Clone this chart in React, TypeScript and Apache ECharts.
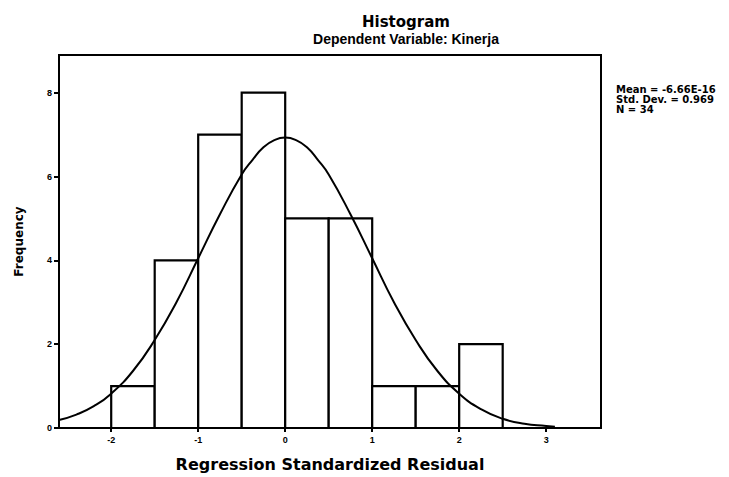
import React, { useEffect, useRef } from "react";
import * as echarts from "echarts";

// Histogram bins (lower edge, upper edge) and frequencies
const binStarts = [-2.0, -1.5, -1.0, -0.5, 0.0, 0.5, 1.0, 1.5, 2.0];
const binEnds = [-1.5, -1.0, -0.5, 0.0, 0.5, 1.0, 1.5, 2.0, 2.5];
const frequencies = [1, 4, 7, 8, 5, 5, 1, 1, 2];

// Normal curve
const curveX = [-2.6, -2.4, -2.2, -2.0, -1.75, -1.5, -1.25, -1.0, -0.75, -0.5, -0.375, -0.25, -0.125, 0, 0.125, 0.25, 0.375, 0.5, 0.75, 1.0, 1.25, 1.5, 1.75, 2.0, 2.25, 2.5, 2.75, 3.0, 3.1];
const curveY = [0.19, 0.32, 0.52, 0.82, 1.36, 2.1, 3.0, 4.05, 5.1, 6.05, 6.4, 6.7, 6.87, 6.93, 6.87, 6.7, 6.4, 6.05, 5.1, 4.05, 3.0, 2.1, 1.36, 0.82, 0.45, 0.22, 0.1, 0.05, 0.03];

const xTicks = [-2, -1, 0, 1, 2, 3];
const yTicks = [0, 2, 4, 6, 8];

const statsLines = ["Mean = -6.66E-16", "Std. Dev. = 0.969", "N = 34"];

const FONT = "'Liberation Sans', Arial, sans-serif";
const WIDE = "'DejaVu Sans', sans-serif";

export default function App() {
  const ref = useRef<HTMLDivElement>(null);
  useEffect(() => {
    if (!ref.current) return;
    const chart = echarts.init(ref.current, null, { renderer: "svg" });
    const barData = binStarts.map((s, i) => [s, binEnds[i], frequencies[i]]);
    const curveData = curveX.map((x, i) => [x, curveY[i]]);
    chart.setOption({
      animation: false,
      backgroundColor: "#fff",
      title: [
        {
          text: "Histogram",
          left: 401,
          top: 9,
          textAlign: "center",
          textStyle: { fontFamily: WIDE, fontWeight: "bold", fontSize: 15, color: "#000" },
        },
        {
          text: "Dependent Variable: Kinerja",
          left: 401,
          top: 27,
          textAlign: "center",
          textStyle: { fontFamily: FONT, fontWeight: "bold", fontSize: 14, color: "#000" },
        },
      ],
      graphic: [
        {
          type: "text",
          left: 616,
          top: 84,
          style: {
            text: statsLines.join("\n"),
            font: `bold 10px ${WIDE}`,
            lineHeight: 10,
            fill: "#000",
          },
        },
      ],
      grid: {
        left: 59,
        top: 55,
        right: 128,
        bottom: 49,
        show: true,
        borderColor: "#000",
        borderWidth: 2,
        backgroundColor: "#fff",
      },
      xAxis: {
        type: "value",
        min: -2.6,
        max: 3.63,
        name: "Regression Standardized Residual",
        nameLocation: "middle",
        nameGap: 28,
        nameTextStyle: { fontFamily: WIDE, fontWeight: "bold", fontSize: 16, color: "#000" },
        splitLine: { show: false },
        axisLine: { show: true, onZero: false, lineStyle: { color: "#000", width: 2 } },
        axisTick: { show: true, customValues: xTicks, length: 4, lineStyle: { color: "#000", width: 2 } },
        axisLabel: {
          customValues: xTicks,
          fontFamily: FONT,
          fontWeight: "bold",
          fontSize: 9,
          color: "#000",
          margin: 7,
        },
      },
      yAxis: {
        type: "value",
        min: 0,
        max: 8.9,
        name: "Frequency",
        nameLocation: "middle",
        nameGap: 34,
        nameRotate: 90,
        nameTextStyle: { fontFamily: WIDE, fontWeight: "bold", fontSize: 12, color: "#000" },
        splitLine: { show: false },
        axisLine: { show: true, onZero: false, lineStyle: { color: "#000", width: 2 } },
        axisTick: { show: true, customValues: yTicks, length: 5, lineStyle: { color: "#000", width: 2 } },
        axisLabel: {
          customValues: yTicks,
          fontFamily: FONT,
          fontWeight: "bold",
          fontSize: 9,
          color: "#000",
          margin: 7,
        },
      },
      series: [
        {
          type: "custom",
          data: barData,
          encode: { x: [0, 1], y: 2 },
          renderItem: (params: any, api: any) => {
            const p0 = api.coord([api.value(0), api.value(2)]);
            const p1 = api.coord([api.value(1), 0]);
            return {
              type: "rect",
              shape: { x: p0[0], y: p0[1], width: p1[0] - p0[0], height: p1[1] - p0[1] },
              style: { fill: "#fff", stroke: "#000", lineWidth: 2.2 },
            };
          },
          z: 2,
        },
        {
          type: "line",
          data: curveData,
          smooth: true,
          symbol: "none",
          lineStyle: { color: "#000", width: 2 },
          z: 3,
        },
      ],
    });
    return () => chart.dispose();
  }, []);
  return (
    <div
      ref={ref}
      style={{ position: "absolute", left: 0, top: 0, width: 729, height: 477 }}
    />
  );
}
